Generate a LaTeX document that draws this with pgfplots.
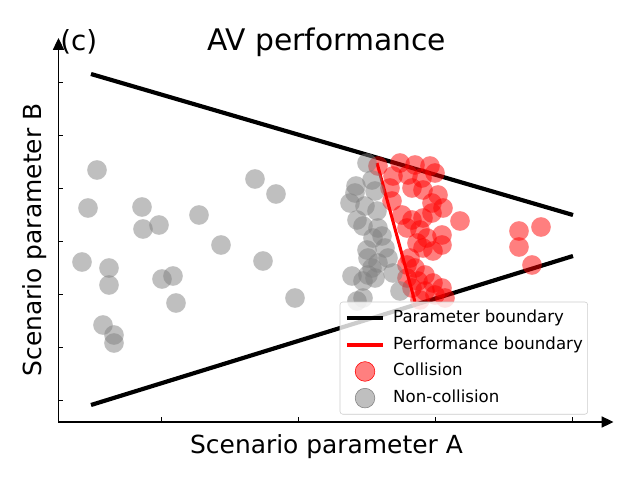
\documentclass[border=0pt]{standalone}
\usepackage{pgfplots}
\pgfplotsset{compat=1.18}
\usepackage{fontspec}
\setmainfont{DejaVu Sans}
\usetikzlibrary{arrows.meta}
\definecolor{mred}{RGB}{255,0,0}
\definecolor{mgray}{RGB}{128,128,128}
\begin{document}
\begin{tikzpicture}
\begin{axis}[
  scale only axis, width=399.6bp, height=276.48bp,
  xmin=58.5, xmax=613.5, ymin=58, ymax=442,
  axis x line*=bottom, axis y line*=left,
  axis line style={line width=0.8bp, black, -{Triangle[length=8.5bp,width=8bp]}},
  xtick={161.2,298.4,435.6,572.8}, ytick={79.7,132.7,185.7,238.7,291.7,344.7,397.7},
  xticklabels={}, yticklabels={},
  tick align=inside, major tick length=3.5bp,
  every tick/.style={black, line width=0.8bp},
  clip=false,
  legend cell align=left,
  legend style={at={(rel axis cs:0.954,0.0195)}, anchor=south east,
    draw=black!20, rounded corners=2bp, fill=white, fill opacity=0.8, text opacity=1,
    font=\fontsize{12}{14.4}\selectfont,
    inner xsep=3.5bp, inner ysep=2bp, row sep=0pt, column sep=5.8bp,
    nodes={inner xsep=0pt, inner ysep=0pt, text height=12.7bp, text depth=6.5bp}},
]
\path (axis cs:0,0) rectangle (axis cs:640,480);
\addlegendimage{legend image code/.code={\draw[black, line width=3bp] (0bp,0bp) -- (26bp,0bp);}}
\addlegendentry{Parameter boundary}
\addlegendimage{legend image code/.code={\draw[mred, line width=3bp] (0bp,0bp) -- (26bp,0bp);}}
\addlegendentry{Performance boundary}
\addlegendimage{legend image code/.code={\fill[mred, fill opacity=0.5] (13bp,0bp) circle (7.07bp);}}
\addlegendentry{Collision}
\addlegendimage{legend image code/.code={\fill[mgray, fill opacity=0.5] (13bp,0bp) circle (7.07bp);}}
\addlegendentry{Non-collision}

\addplot[forget plot, only marks, mark=*, mark size=7.07bp, color=mred, mark options={draw opacity=0, fill=mred, fill opacity=0.5}] coordinates {
(378,314) (400,317) (415,315) (430,314) (393,304) (408,305) (422,302) (435,307)
(390,292) (412,292) (423,290) (438,285) (392,279) (432,277) (443,272) (402,265)
(412,260) (423,262) (432,267) (460,259) (407,252) (420,250) (442,245) (427,242)
(417,237) (442,235) (423,232) (433,229) (410,222) (407,215) (415,212) (425,205)
(407,202) (418,199) (433,197) (442,192) (412,192) (425,189) (435,185) (420,180)
(445,182) (519,249) (541,253) (519,233) (532,215)
};
\addplot[forget plot, only marks, mark=*, mark size=7.07bp, color=mgray, mark options={draw opacity=0, fill=mgray, fill opacity=0.5}] coordinates {
(97,310) (88,272) (142,273) (143,251) (159,255) (199,265) (255,301) (276,286)
(82,218) (109,212) (109,195) (221,235) (263,219) (162,201) (173,204) (176,177)
(295,182) (103,155) (114,145) (114,137)
(367,317) (356,294) (355,287) (350,277) (372,300) (375,289) (365,274) (357,260)
(377,269) (378,252) (363,254) (382,244) (373,242) (367,230) (385,232) (388,222)
(368,222) (378,217) (372,212) (368,205) (352,204) (363,199) (375,202) (393,207)
(400,189) (363,182) (357,179)
};
\addplot[forget plot, black, line width=3bp] coordinates {(91,406) (573,265)};
\addplot[forget plot, black, line width=3bp] coordinates {(91,75) (573,224)};
\addplot[forget plot, mred, line width=2.2bp] coordinates {(377,317) (415,178)};

\node[anchor=base, font=\fontsize{21.5}{24}\selectfont] at (axis cs:326.5,429) {AV performance};
\node[anchor=base west, inner sep=0pt, font=\fontsize{20}{24}\selectfont] at (axis cs:60,429) {(c)};
\node[anchor=base, font=\fontsize{18}{21}\selectfont] at (axis cs:326.5,27) {Scenario parameter A};
\node[anchor=base, rotate=90, font=\fontsize{18}{21}\selectfont] at (axis cs:42,240) {Scenario parameter B};
\end{axis}
\end{tikzpicture}
\end{document}
